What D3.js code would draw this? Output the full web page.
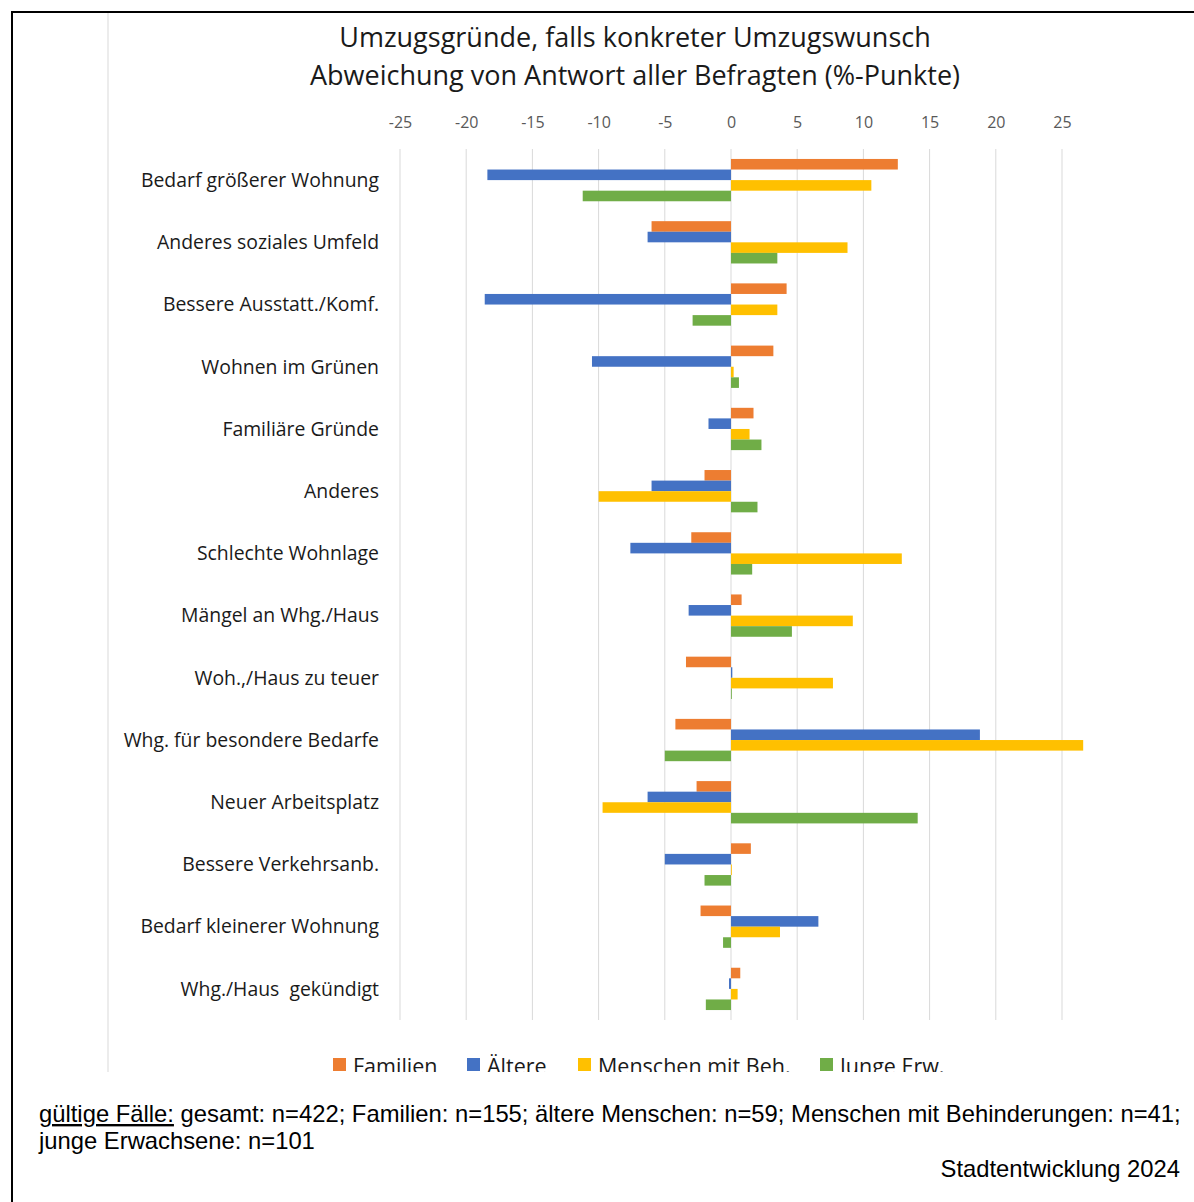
<!DOCTYPE html>
<html><head><meta charset="utf-8">
<script src="https://cdn.jsdelivr.net/npm/d3@7"></script>
<style>body{margin:0;background:#fff}svg{display:block}</style>
</head><body>
<svg id="c" width="1194" height="1202"></svg>
<script>
const categories = ["Bedarf größerer Wohnung","Anderes soziales Umfeld","Bessere Ausstatt./Komf.","Wohnen im Grünen","Familiäre Gründe","Anderes","Schlechte Wohnlage","Mängel an Whg./Haus","Woh.,/Haus zu teuer","Whg. für besondere Bedarfe","Neuer Arbeitsplatz","Bessere Verkehrsanb.","Bedarf kleinerer Wohnung","Whg./Haus  gekündigt"];
const seriesNames = ["Familien","Ältere","Menschen mit Beh.","Junge Erw."];
const familien = [12.6,-6.0,4.2,3.2,1.7,-2.0,-3.0,0.8,-3.4,-4.2,-2.6,1.5,-2.3,0.7];
const aeltere = [-18.4,-6.3,-18.6,-10.5,-1.7,-6.0,-7.6,-3.2,0.1,18.8,-6.3,-5.0,6.6,-0.15];
const behinderung = [10.6,8.8,3.5,0.2,1.4,-10.0,12.9,9.2,7.7,26.6,-9.7,0.05,3.7,0.5];
const jungeErw = [-11.2,3.5,-2.9,0.6,2.3,2.0,1.6,4.6,0.05,-5.0,14.1,-2.0,-0.6,-1.9];
const tickValues = [-25,-20,-15,-10,-5,0,5,10,15,20,25];
const titleLines = ["Umzugsgründe, falls konkreter Umzugswunsch","Abweichung von Antwort aller Befragten (%-Punkte)"];
const colors = ["#ED7D31","#4472C4","#FFC000","#70AD47"];
const allSeries = [familien, aeltere, behinderung, jungeErw];

const svg = d3.select("#c");
const font = "'Open Sans', sans-serif";

// outer frame
svg.append("rect").attr("x",12).attr("y",12).attr("width",1300).attr("height",1300)
  .attr("fill","none").attr("stroke","#000").attr("stroke-width",2);
// chart area left border
svg.append("line").attr("x1",108).attr("x2",108).attr("y1",13).attr("y2",1072)
  .attr("stroke","#d9d9d9").attr("stroke-width",1);

const x = d3.scaleLinear().domain([-25,25]).range([400,1062]);
const y = d3.scaleBand().domain(categories).range([149,1020]).paddingInner(0.32).paddingOuter(0.16);
const ys = d3.scaleBand().domain(d3.range(4)).range([0,y.bandwidth()]);

// title
svg.append("g").selectAll("text").data(titleLines).join("text")
  .attr("x",635).attr("y",(d,i)=>47+i*38).attr("text-anchor","middle")
  .attr("font-family",font).attr("font-size",27).attr("fill","#1a1a1a").text(d=>d);

// gridlines
svg.append("g").selectAll("line").data(tickValues).join("line")
  .attr("x1",d=>x(d)).attr("x2",d=>x(d)).attr("y1",149).attr("y2",1020)
  .attr("stroke","#d9d9d9").attr("stroke-width",1);

// top axis labels
const ax = svg.append("g").attr("transform","translate(0,128)")
  .call(d3.axisTop(x).tickValues(tickValues).tickSize(0).tickPadding(0).tickFormat(d=>String(d)));
ax.select(".domain").remove();
ax.selectAll("text").attr("font-family",font).attr("font-size",16).attr("fill","#595959");

// bars
allSeries.forEach((vals,s)=>{
  svg.append("g").selectAll("rect").data(vals).join("rect")
    .attr("x",d=>x(Math.min(0,d)))
    .attr("width",d=>Math.max(0.8,Math.abs(x(d)-x(0))))
    .attr("y",(d,i)=>y(categories[i])+ys(s))
    .attr("height",ys.bandwidth())
    .attr("fill",colors[s]);
});

// category labels
svg.append("g").selectAll("text").data(categories).join("text")
  .attr("x",379).attr("y",d=>y(d)+y.bandwidth()/2).attr("dy","0.35em")
  .attr("text-anchor","end").attr("font-family",font).attr("font-size",19.4)
  .attr("fill","#1a1a1a").attr("xml:space","preserve").style("white-space","pre").text(d=>d);

// legend (clipped)
svg.append("clipPath").attr("id","lc").append("rect").attr("x",0).attr("y",0).attr("width",1194).attr("height",1072);
const legX = [333,467,578,820];
const lg = svg.append("g").attr("clip-path","url(#lc)");
seriesNames.forEach((n,i)=>{
  lg.append("rect").attr("x",legX[i]).attr("y",1058).attr("width",13).attr("height",13).attr("fill",colors[i]);
  lg.append("text").attr("x",legX[i]+20).attr("y",1074).attr("font-family",font).attr("font-size",21.5)
    .attr("fill","#1a1a1a").text(n);
});

// footer
const ff = "'Liberation Sans', Arial, sans-serif";
const fs = 23.8;
const t1 = svg.append("text").attr("x",39).attr("y",1122).attr("font-family",ff).attr("font-size",fs).attr("fill","#000");
t1.append("tspan").attr("text-decoration","underline").text("gültige Fälle:");
t1.append("tspan").text(" gesamt: n=422; Familien: n=155; ältere Menschen: n=59; Menschen mit Behinderungen: n=41;");
svg.append("text").attr("x",39).attr("y",1149).attr("font-family",ff).attr("font-size",fs).attr("fill","#000")
  .text("junge Erwachsene: n=101");
svg.append("text").attr("x",1180).attr("y",1177).attr("text-anchor","end").attr("font-family",ff).attr("font-size",fs).attr("fill","#000")
  .text("Stadtentwicklung 2024");
</script>
</body></html>
